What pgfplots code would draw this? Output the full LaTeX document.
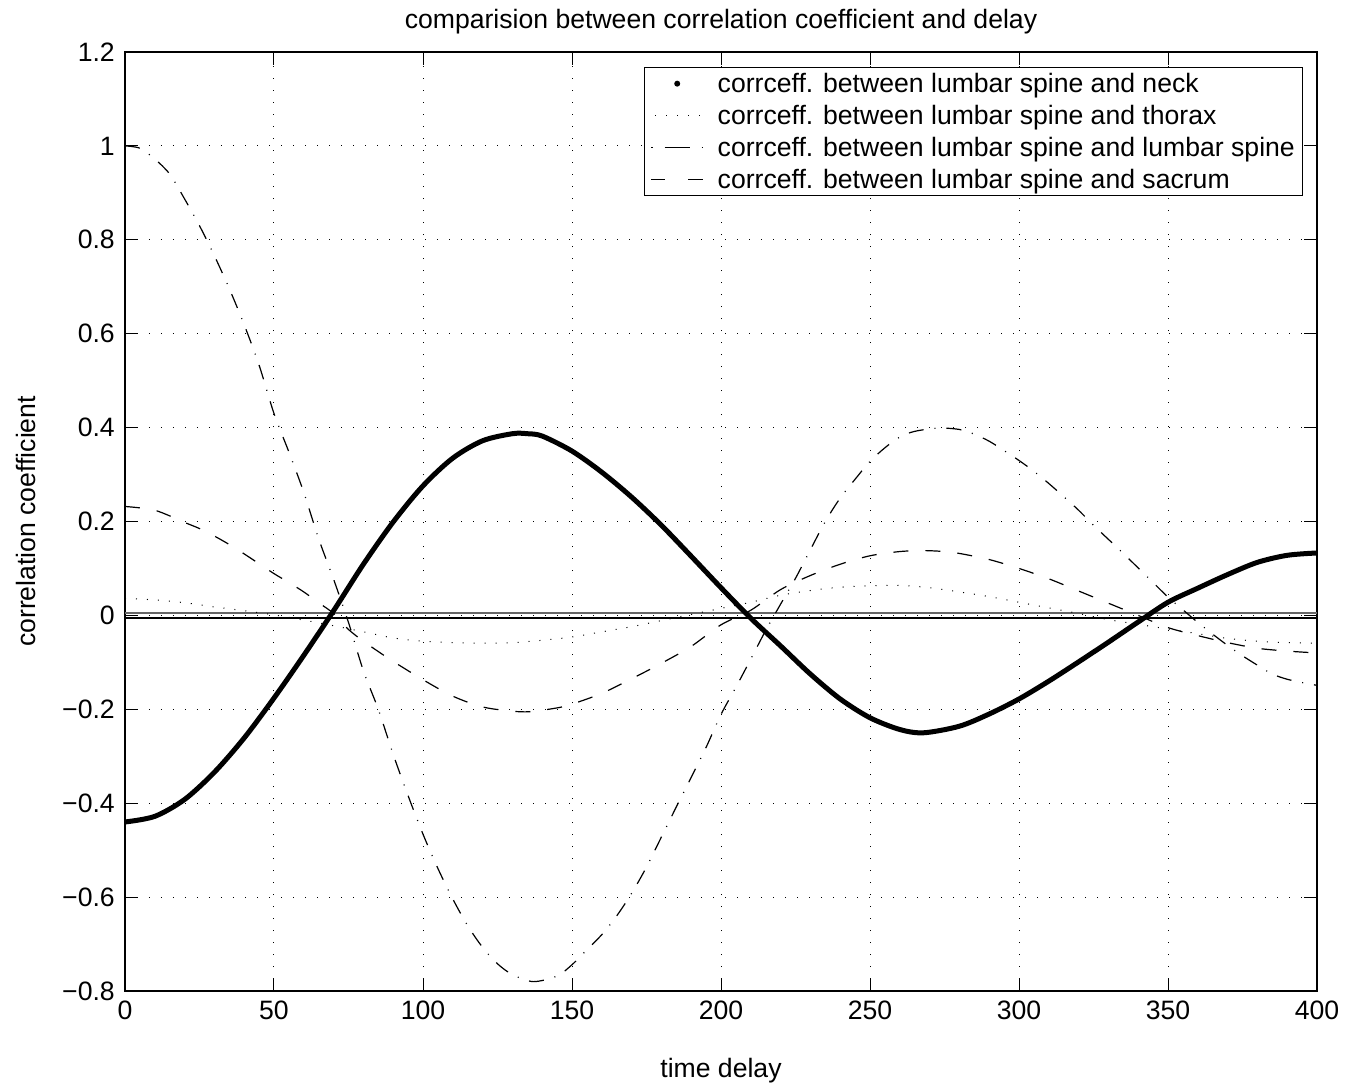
\documentclass[border=0pt]{standalone}
\usepackage{fontspec}
\setmainfont{Liberation Sans}
\usepackage{pgfplots}
\pgfplotsset{compat=1.18}
\begin{document}
\begin{tikzpicture}[font=\fontsize{13.3}{16}\selectfont]
\begin{axis}[
  scale only axis,
  width=596pt, height=469.5pt,
  at={(0,0)}, anchor=south west,
  xmin=0, xmax=400, ymin=-0.8, ymax=1.2,
  xtick={0,50,100,150,200,250,300,350,400},
  xticklabels={0,50,100,150,200,250,300,350,400},
  ytick={-0.8,-0.6,-0.4,-0.2,0,0.2,0.4,0.6,0.8,1,1.2},
  yticklabels={−0.8,−0.6,−0.4,−0.2,0,0.2,0.4,0.6,0.8,1,1.2},
  tick align=inside,
  major tick length=6.5pt,
  every tick/.style={black, line width=0.5pt},
  axis line style={line width=1pt, black},
  xticklabel style={yshift=-1.6pt},
  yticklabel style={xshift=-1.6pt},
  grid=major,
  major grid style={black, line width=0.5pt, dash pattern=on 0.5pt off 5.5pt},
  every axis title shift=0pt,
  title={comparision between correlation coefficient and delay},
  title style={at={(axis description cs:0.5,1.0252)}, anchor=base},
  xlabel={time delay},
  xlabel style={at={(axis description cs:0.5,-0.0916)}, anchor=base},
  ylabel={correlation coefficient},
  ylabel style={at={(axis description cs:-0.0755,0.5)}, anchor=base},
  legend style={at={(rel axis cs:0.98826,0.98403)}, anchor=north east,
    draw=black, line width=0.65pt, fill=white,
    inner xsep=2.5pt, inner ysep=0pt, row sep=0pt,
    nodes={inner xsep=1.25pt, inner ysep=0pt, text height=12.3pt, text depth=3.7pt}},
  legend cell align=left,
]
% horizontal reference lines near zero
\addplot[forget plot, black!60, line width=0.8pt] coordinates {(0,0.0045) (400,0.0045)};
\addplot[forget plot, black, line width=0.8pt] coordinates {(0,-0.005) (400,-0.005)};

% neck
\addplot[black, line width=2.5pt, smooth, line join=round,
  legend image code/.code={\path[draw=none] (-1pt,0pt) -- (32pt,0pt); \fill[black, draw=none] (13pt,0pt) circle (1.5pt);}]
coordinates {
(0,-0.440) (10,-0.428) (20,-0.392) (30,-0.334) (40,-0.261) (50,-0.176) (60,-0.085)
(70,0.010) (80,0.109) (90,0.199) (100,0.276) (110,0.335) (120,0.372) (130,0.387)
(135,0.387) (140,0.382) (150,0.350) (160,0.305) (170,0.252) (180,0.192) (190,0.126)
(200,0.059) (210,-0.006) (220,-0.065) (230,-0.125) (240,-0.178) (250,-0.218)
(260,-0.243) (268,-0.250) (280,-0.236) (290,-0.210) (300,-0.178) (310,-0.140)
(320,-0.099) (330,-0.057) (340,-0.014) (350,0.028) (360,0.058) (370,0.087)
(380,0.113) (390,0.128) (400,0.133)
};
\addlegendentry{corrceff. between lumbar spine and neck}

% thorax
\addplot[black, line width=0.5pt, smooth, dash pattern=on 0.5pt off 5pt,
  legend image code/.code={\path[draw=none] (-1pt,0pt) -- (32pt,0pt); \draw[black, line width=0.6pt, dash pattern=on 0.6pt off 4.9pt] (2pt,0pt) -- (26pt,0pt);}]
coordinates {
(0,0.036) (10,0.033) (20,0.027) (30,0.018) (40,0.010) (50,0.001) (60,-0.010)
(70,-0.022) (80,-0.035) (90,-0.048) (100,-0.055) (110,-0.058) (120,-0.059)
(130,-0.058) (140,-0.053) (150,-0.046) (160,-0.035) (170,-0.024) (180,-0.011)
(190,0.002) (200,0.015) (210,0.028) (220,0.043) (230,0.053) (240,0.060)
(250,0.063) (260,0.064) (270,0.059) (280,0.050) (290,0.040) (300,0.028)
(310,0.016) (320,0.004) (330,-0.009) (340,-0.019) (350,-0.029) (360,-0.039)
(370,-0.049) (380,-0.055) (390,-0.058) (400,-0.059)
};
\addlegendentry{corrceff. between lumbar spine and thorax}

% lumbar spine
\addplot[black, line width=0.6pt, smooth, dash pattern=on 7.5pt off 5.5pt on 0.5pt off 5.5pt,
  legend image code/.code={\path[draw=none] (-1pt,0pt) -- (32pt,0pt); \draw[black, line width=0.6pt, dash pattern=on 0.7pt off 6pt on 12.5pt off 6pt on 0.7pt off 10pt] (0pt,0pt) -- (26pt,0pt);}]
coordinates {
(0,1.000) (5,0.995) (10,0.972) (15,0.940) (20,0.887) (25,0.830) (30,0.766)
(35,0.696) (40,0.619) (45,0.533) (50,0.430) (55,0.348) (60,0.262) (65,0.163)
(70,0.077) (75,-0.015) (80,-0.118) (85,-0.200) (90,-0.296) (95,-0.384)
(100,-0.466) (105,-0.539) (110,-0.604) (115,-0.661) (120,-0.707) (125,-0.742)
(130,-0.765) (137,-0.780) (145,-0.768) (150,-0.744) (155,-0.712) (160,-0.680)
(165,-0.640) (170,-0.592) (175,-0.536) (180,-0.472) (185,-0.408) (190,-0.345)
(195,-0.281) (200,-0.211) (205,-0.153) (210,-0.093) (215,-0.032) (220,0.024)
(225,0.079) (230,0.140) (235,0.200) (240,0.250) (245,0.290) (250,0.328)
(255,0.357) (260,0.380) (265,0.392) (273,0.399) (280,0.396) (285,0.386)
(290,0.371) (295,0.351) (300,0.330) (305,0.307) (310,0.281) (315,0.253)
(320,0.224) (325,0.192) (330,0.162) (335,0.132) (340,0.101) (345,0.070)
(350,0.039) (355,0.012) (360,-0.015) (365,-0.040) (370,-0.064) (375,-0.086)
(380,-0.106) (385,-0.125) (390,-0.136) (395,-0.143) (400,-0.149)
};
\addlegendentry{corrceff. between lumbar spine and lumbar spine}

% sacrum
\addplot[black, line width=0.6pt, smooth, dash pattern=on 7.5pt off 8.5pt,
  legend image code/.code={\path[draw=none] (-1pt,0pt) -- (32pt,0pt); \draw[black, line width=0.6pt, dash pattern=on 7pt off 11.5pt on 7.5pt off 2pt] (0pt,0pt) -- (26pt,0pt);}]
coordinates {
(0,0.232) (10,0.224) (20,0.198) (25,0.185) (30,0.169) (35,0.151) (40,0.131)
(45,0.110) (50,0.089) (55,0.070) (60,0.050) (65,0.027) (70,0.004) (75,-0.030)
(80,-0.055) (85,-0.077) (90,-0.098) (100,-0.137) (110,-0.172) (120,-0.195)
(130,-0.204) (136,-0.205) (145,-0.197) (150,-0.189) (160,-0.166) (170,-0.135)
(180,-0.102) (190,-0.066) (200,-0.020) (210,0.011) (220,0.055) (230,0.085)
(240,0.109) (250,0.127) (260,0.136) (268,0.138) (275,0.136) (280,0.132)
(290,0.119) (300,0.100) (310,0.078) (320,0.052) (330,0.026) (340,0.000)
(350,-0.026) (360,-0.043) (370,-0.058) (380,-0.070) (390,-0.076) (400,-0.080)
};
\addlegendentry{corrceff. between lumbar spine and sacrum}
\end{axis}
\pgfresetboundingbox
\path[use as bounding box] (-62.5pt,-46.5pt) rectangle (615pt,495.5pt);
\end{tikzpicture}
\end{document}
